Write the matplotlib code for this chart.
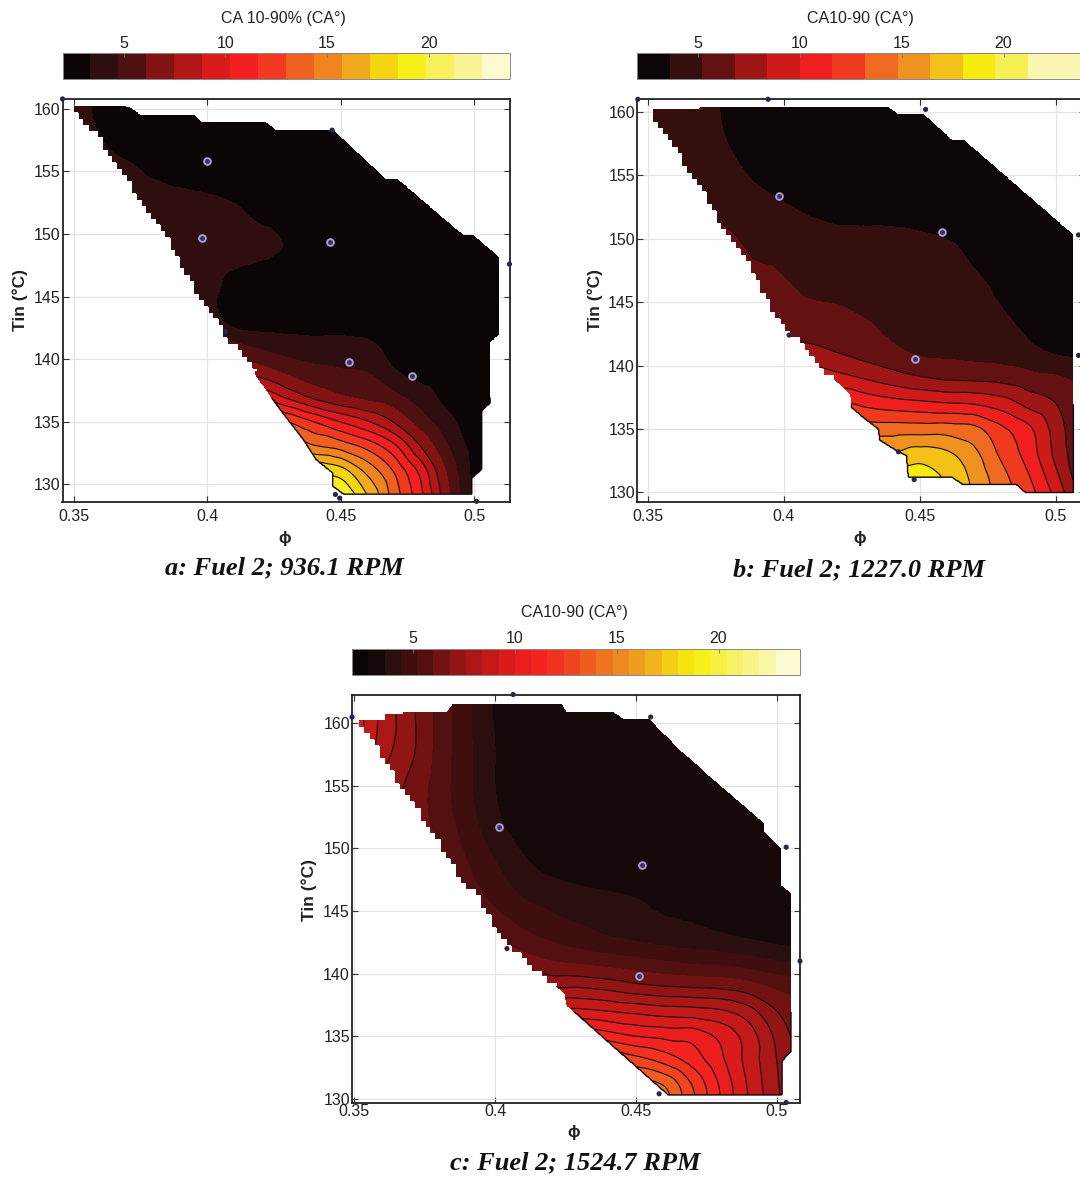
import numpy as np
import matplotlib
matplotlib.use('Agg')
import matplotlib.pyplot as plt
import matplotlib.tri as mtri
from matplotlib.path import Path
from matplotlib.colors import LinearSegmentedColormap

W, H = 1080, 1179

# data
phi_grid = [0.35, 0.36, 0.37, 0.38, 0.39, 0.40, 0.41, 0.42, 0.43, 0.44, 0.45, 0.46, 0.47, 0.48, 0.49, 0.50, 0.51]
tin_grid = [129, 131, 133, 135, 137, 139, 141, 143, 146, 149, 152, 155, 158, 162]

z_a = [
    [20, 20, 20, 20, 20, 20, 20, 20, 20, 20, 20, 17.2, 13.8, 10.6, 6.5, 3.2, 2.4],
    [18, 18, 18, 18, 18, 18, 18, 18, 18, 18.5, 17.8, 15.4, 12.9, 9.8, 5.9, 3.0, 2.4],
    [15.5, 15.5, 15.5, 15.5, 15.5, 15.5, 15.5, 15.5, 15.5, 14.6, 13.9, 12.6, 10.6, 7.5, 4.8, 2.9, 2.4],
    [13.5, 13.5, 13.5, 13.5, 13.5, 13.5, 13.5, 13.5, 13, 11.6, 10.2, 9, 7.4, 5.4, 3.8, 2.7, 2.3],
    [10.5, 10.5, 10.5, 10.5, 10.5, 10.5, 10.5, 10, 8.6, 7.2, 6.3, 5.7, 5.1, 4.1, 2.9, 2.4, 2.2],
    [8, 8, 8, 8, 8, 8, 7.5, 6.8, 5.8, 5.2, 4.9, 4.7, 3.5, 2.8, 2.5, 2.3, 2.2],
    [6.5, 6.5, 6.5, 6.5, 6.5, 6, 5.2, 4.5, 4.1, 3.9, 3.9, 3.7, 2.9, 2.5, 2.3, 2.2, 2.2],
    [5, 5, 5, 5, 4.5, 4.0, 3.0, 2.8, 2.8, 2.8, 2.8, 2.7, 2.5, 2.4, 2.3, 2.2, 2.2],
    [4.6, 4.6, 4.6, 4.6, 4.2, 3.8, 3.0, 2.6, 2.5, 2.5, 2.5, 2.4, 2.4, 2.3, 2.3, 2.2, 2.2],
    [4.4, 4.4, 4.4, 4.2, 4.2, 4.2, 4.0, 3.7, 3.3, 2.9, 2.6, 2.5, 2.4, 2.3, 2.3, 2.2, 2.2],
    [4.3, 4.2, 4.1, 4.1, 4.0, 3.8, 3.5, 3.0, 2.8, 2.6, 2.5, 2.5, 2.4, 2.4, 2.3, 2.3, 2.2],
    [4.1, 3.9, 3.6, 3.2, 2.9, 2.7, 2.6, 2.5, 2.5, 2.5, 2.5, 2.4, 2.4, 2.4, 2.3, 2.3, 2.3],
    [4, 3.3, 2.8, 2.6, 2.5, 2.5, 2.5, 2.5, 2.5, 2.4, 2.4, 2.4, 2.4, 2.3, 2.3, 2.3, 2.3],
    [3.6, 3.0, 2.6, 2.5, 2.5, 2.5, 2.5, 2.5, 2.5, 2.4, 2.4, 2.4, 2.4, 2.3, 2.3, 2.3, 2.3],
]

z_b = [
    [19, 19, 19, 19, 19, 19, 19, 19, 19, 19, 19.5, 18, 16.2, 14.2, 12.5, 10, 6],
    [18, 18, 18, 18, 18, 18, 18, 18, 18, 18.5, 19, 17.8, 16, 13.8, 11.8, 8.9, 5.5],
    [16.5, 16.5, 16.5, 16.5, 16.5, 16.5, 16.5, 16.5, 16.5, 16.5, 17.2, 16.7, 15.2, 12.9, 10.9, 8, 5.2],
    [14, 14, 14, 14, 14, 14, 14, 14, 14, 14, 14, 14, 13.6, 11.9, 10.3, 7.7, 5],
    [12, 12, 12, 12, 12, 12, 12, 12, 11.2, 10.7, 10.4, 10.1, 9.9, 9.2, 7.9, 6.8, 4.9],
    [9.8, 9.8, 9.8, 9.8, 9.8, 9.8, 9.6, 9, 8.3, 7.6, 7, 6.6, 6.5, 6.3, 5.8, 5.4, 4.7],
    [8, 8, 8, 8, 8, 7.8, 7.4, 6.8, 6.2, 5.6, 5, 4.9, 4.7, 4.5, 4, 3.5, 3.2],
    [6.8, 6.8, 6.8, 6.8, 6.6, 6.2, 6, 5.8, 5.4, 4.9, 4.7, 4.5, 4.2, 3.9, 3.4, 2.9, 2.6],
    [6.2, 6.2, 6.2, 6, 5.8, 5.4, 5, 4.9, 4.7, 4.5, 4.4, 4.2, 3.9, 3.4, 2.9, 2.6, 2.4],
    [6, 6, 6, 5.6, 5, 4.8, 4.6, 4.5, 4.4, 4.3, 4.1, 3.9, 3.3, 2.8, 2.5, 2.3, 2.2],
    [5.3, 5.2, 5, 4.8, 4.4, 3.9, 3.5, 3.2, 3.2, 3.2, 3.1, 2.8, 2.5, 2.3, 2.3, 2.2, 2.2],
    [4.8, 4.6, 4.4, 4.0, 3.4, 2.9, 2.6, 2.5, 2.5, 2.5, 2.4, 2.4, 2.3, 2.3, 2.3, 2.2, 2.2],
    [4.4, 4.3, 4.1, 3.5, 2.9, 2.6, 2.5, 2.5, 2.5, 2.4, 2.4, 2.4, 2.3, 2.3, 2.3, 2.2, 2.2],
    [4.2, 4.1, 3.9, 3.3, 2.8, 2.5, 2.5, 2.5, 2.5, 2.4, 2.4, 2.4, 2.3, 2.3, 2.3, 2.2, 2.2],
]

z_c = [
    [15, 15, 15, 15, 15, 15, 15, 15, 15, 15, 15, 14.5, 12.6, 10.8, 9.2, 7.8, 6.5],
    [15, 15, 15, 15, 15, 15, 15, 15, 15, 15, 14.5, 14, 12.4, 10.7, 9.1, 7.7, 6.5],
    [14, 14, 14, 14, 14, 14, 14, 14, 14, 13.5, 12.8, 12.2, 11.3, 10.2, 8.9, 7.6, 6.5],
    [12.5, 12.5, 12.5, 12.5, 12.5, 12.5, 12.5, 12.5, 11.6, 11.2, 10.8, 10.6, 10.5, 9.8, 8.8, 7.4, 6.2],
    [9.8, 9.8, 9.8, 9.8, 9.8, 9.8, 9.8, 9.6, 9.4, 9.2, 9, 8.8, 8.7, 8.5, 7.9, 6.8, 5.8],
    [8, 8, 8, 8, 8, 8, 8, 7.5, 7.5, 7.3, 7, 6.8, 6.7, 6.6, 6.3, 5.8, 5.4],
    [7.5, 7.5, 7.5, 7.5, 7.5, 7, 6.4, 6, 5.8, 5.6, 5.4, 5.2, 5, 4.9, 4.7, 4.4, 4.2],
    [7, 7, 7, 7, 6.6, 6, 5.4, 5, 4.7, 4.4, 4.2, 4, 3.9, 3.7, 3.5, 3.3, 3.2],
    [7, 7, 7, 6.4, 5.7, 5, 4.4, 4.1, 3.9, 3.75, 3.6, 3.4, 3.3, 3.1, 3, 3, 3],
    [7.6, 7.6, 7, 6, 5.2, 4.4, 3.7, 3.3, 3.1, 3, 3, 3, 3, 3, 3, 3, 3],
    [8, 7.5, 6.6, 5.7, 4.8, 3.8, 3.2, 3, 3, 3, 3, 3, 3, 3, 3, 3, 3],
    [8.6, 7.4, 6.6, 5.6, 4.6, 3.6, 3.1, 3, 3, 3, 3, 3, 3, 3, 3, 3, 3],
    [9.6, 8, 7, 5.7, 4.6, 3.6, 3, 3, 3, 3, 3, 3, 3, 3, 3, 3, 3],
    [9.8, 8.2, 7, 5.7, 4.6, 3.5, 3, 3, 3, 3, 3, 3, 3, 3, 3, 3, 3],
]

# outline of the covered region, clockwise from the top left corner
hull_a_phi = [0.35, 0.371, 0.375, 0.395, 0.398, 0.422, 0.4255, 0.447, 0.4666, 0.471, 0.4957, 0.4995, 0.5094, 0.5094, 0.5058, 0.5058, 0.5027, 0.5027, 0.4989, 0.4989, 0.4508, 0.447, 0.447, 0.4406, 0.4362, 0.4261, 0.4185, 0.4153, 0.4084, 0.4052, 0.3982, 0.3856, 0.3729, 0.36]
hull_a_tin = [160.1, 160.1, 159.5, 159.5, 158.9, 158.9, 158.3, 158.3, 154.4, 154.4, 149.9, 149.9, 148.1, 142, 141.4, 136.5, 135.9, 131.2, 130.5, 129.25, 129.25, 129.85, 130.9, 132, 133.5, 136.3, 138.6, 140.2, 141.4, 142.5, 144.6, 149.4, 153.3, 157.6]

hull_b_phi = [0.35, 0.4384, 0.442, 0.4513, 0.4617, 0.466, 0.5065, 0.5065, 0.4887, 0.4856, 0.466, 0.4617, 0.4457, 0.4451, 0.4421, 0.4353, 0.4347, 0.4292, 0.4249, 0.4243, 0.415, 0.4046, 0.3948, 0.385, 0.3764, 0.3703, 0.3617, 0.3531]
hull_b_tin = [160.36, 160.36, 159.8, 159.8, 157.8, 157.8, 150.26, 130, 130, 130.6, 130.6, 131.2, 131.2, 132.9, 133.2, 134.1, 135, 135.9, 136.7, 137.8, 139.6, 142.1, 144.8, 148.9, 151.3, 153.7, 156.6, 159.3]

hull_c_phi = [0.3524, 0.3596, 0.3627, 0.3831, 0.3849, 0.4235, 0.4253, 0.4416, 0.4458, 0.4548, 0.4651, 0.4952, 0.4952, 0.5016, 0.5016, 0.505, 0.505, 0.5018, 0.5018, 0.4614, 0.4253, 0.4247, 0.4066, 0.4018, 0.3946, 0.3886, 0.3789, 0.3723, 0.3657, 0.3566, 0.3524]
hull_c_tin = [160.3, 160.3, 160.9, 160.9, 161.5, 161.5, 160.9, 160.9, 160.3, 160.3, 157.9, 152, 151.3, 149.9, 147, 146.4, 133.8, 133, 130.3, 130.3, 137.5, 138.4, 141.9, 143, 146.1, 147.3, 151, 153.2, 155.2, 158.8, 159.85]

# measured points, ringed ones and plain dots
ring_a_phi = [0.3999, 0.3979, 0.4458, 0.4529, 0.4767]
ring_a_tin = [155.8, 149.7, 149.4, 139.8, 138.7]
dot_a_phi = [0.4068, 0.4467, 0.5131, 0.3457, 0.4479, 0.4495, 0.5008]
dot_a_tin = [142.2, 158.3, 147.6, 160.8, 129.2, 128.9, 128.65]

ring_b_phi = [0.3981, 0.458, 0.4482]
ring_b_tin = [153.4, 150.5, 140.5]
dot_b_phi = [0.4019, 0.4479, 0.4421, 0.4521, 0.3942, 0.3463, 0.5083, 0.5083]
dot_b_tin = [142.4, 131, 133.2, 160.2, 161, 161, 150.3, 140.8]

ring_c_phi = [0.4012, 0.4523, 0.4512]
ring_c_tin = [151.7, 148.7, 139.8]
dot_c_phi = [0.4042, 0.4582, 0.4552, 0.4064, 0.3492, 0.5033, 0.5082, 0.5033]
dot_c_tin = [142, 130.4, 160.5, 162.3, 160.5, 150.1, 141, 129.7]

# colour stops: CA value, colour
stop_vals = [2, 3, 4, 5.5, 7, 8.4, 9.8, 11, 12.5, 14, 15.3, 16.7, 18, 19, 21, 24]
stop_cols = ['#040202', '#100707', '#2c0e0e', '#4f1010', '#8a1414', '#b81818', '#e01c1c', '#f42020',
             '#f03c20', '#ee6a20', '#ee8a20', '#f2b01c', '#f5dc10', '#f6f010', '#f8f070', '#fdfde8']
cb_ticks = [5, 10, 15, 20]
x_ticks = [0.35, 0.4, 0.45, 0.5]
x_labels = ['0.35', '0.4', '0.45', '0.5']
y_ticks = [130, 135, 140, 145, 150, 155, 160]

plt.rcParams['font.family'] = ['Liberation Sans', 'DejaVu Sans']
cmap = LinearSegmentedColormap.from_list(
    'ca', [((v - 2) / 22, c) for v, c in zip(stop_vals, stop_cols)], N=512)

fig = plt.figure(figsize=(W / 100, H / 100), dpi=100, facecolor='white')


def box(left, top, right, bottom):
    return [left / W, 1 - bottom / H, (right - left) / W, (bottom - top) / H]


def covered(PHI, TIN, hull_phi, hull_tin):
    path = Path(np.column_stack([hull_phi, hull_tin]))
    pts = np.column_stack([PHI.ravel(), TIN.ravel()])
    inside = path.contains_points(pts).reshape(PHI.shape)
    # the lower-phi edge is stepped in the original
    q_phi = np.round(PHI / 0.0018) * 0.0018
    q_tin = np.round(TIN / 0.5) * 0.5
    pts = np.column_stack([q_phi.ravel(), q_tin.ravel()])
    stepped = path.contains_points(pts).reshape(PHI.shape)
    edge = (TIN > 139) & (PHI < 0.47 - 0.00333 * (TIN - 130))
    inside[edge] = stepped[edge]
    return inside


def panel(rect, cb_rect, xlim, ylim, z, step, hull_phi, hull_tin, rings, dots, cb_title, title_xy,
          tin_xy, phi_xy, caption, caption_xy, x_pad):
    ax = fig.add_axes(box(*rect))
    phi_mesh, tin_mesh = np.meshgrid(phi_grid, tin_grid)
    tri = mtri.Triangulation(phi_mesh.ravel(), tin_mesh.ravel())
    interp = mtri.CubicTriInterpolator(tri, np.array(z, dtype=float).ravel(), kind='geom')

    PHI, TIN = np.meshgrid(np.linspace(0.35, 0.51, 560), np.linspace(129, 162, 520))
    Z = np.ma.masked_invalid(np.ma.filled(interp(PHI, TIN), np.nan))
    inside = covered(PHI, TIN, hull_phi, hull_tin)
    Z = np.ma.masked_where(~inside, Z)

    levels = np.arange(2, 24.01, step)
    levels[-1] = 24
    cs = ax.contourf(PHI, TIN, Z, levels=levels, cmap=cmap, vmin=2, vmax=24)
    # lines only show on the brighter bands
    ax.contour(PHI, TIN, Z, levels=levels[levels > 6.4], colors='#120808', linewidths=0.8)

    # black rim only along the bright lower part
    rim = np.ma.masked_where(TIN > 137, inside.astype(float))
    ax.contour(PHI, TIN, rim, levels=[0.5], colors='#100808', linewidths=1.0)

    ax.scatter(dots[0], dots[1], s=14, color='#27264f', edgecolors='none', clip_on=False, zorder=4)
    ax.scatter(rings[0], rings[1], s=24, facecolor='#3a3560', edgecolors='#ab9fdc', linewidths=1.3,
               clip_on=False, zorder=4)

    ax.set_xlim(xlim)
    ax.set_ylim(ylim)
    ax.set_xticks(x_ticks)
    ax.set_xticklabels(x_labels)
    ax.set_yticks(y_ticks)
    ax.grid(color='#e4e4e4', linewidth=0.9)
    ax.set_axisbelow(True)
    ax.tick_params(direction='in', length=4, width=0.8, top=True, right=True, labelsize=11.5,
                   labelcolor='#222222', color='#333333')
    ax.tick_params(axis='x', pad=x_pad)
    ax.tick_params(axis='y', pad=1.5)
    for s in ax.spines.values():
        s.set_linewidth(1.3)
        s.set_color('#222222')

    cax = fig.add_axes(box(*cb_rect))
    cb = fig.colorbar(cs, cax=cax, orientation='horizontal', ticks=cb_ticks, spacing='proportional')
    cax.xaxis.set_ticks_position('top')
    cax.tick_params(direction='in', length=3, width=0.6, labelsize=11.5, labelcolor='#222222',
                    pad=1.5, color='#777777')
    cb.outline.set_linewidth(0.7)
    cb.outline.set_edgecolor('#888888')

    fig.text(title_xy[0] / W, 1 - title_xy[1] / H, cb_title, ha='center', va='center', fontsize=11.5,
             color='#222222')
    fig.text(tin_xy[0] / W, 1 - tin_xy[1] / H, 'Tin (°C)', rotation=90, ha='center', va='center',
             fontsize=12.5, fontweight='bold', color='#222222')
    fig.text(phi_xy[0] / W, 1 - phi_xy[1] / H, 'ϕ', ha='center', va='center', fontsize=12,
             fontweight='bold', color='#222222')
    fig.text(caption_xy[0] / W, 1 - caption_xy[1] / H, caption, ha='center', va='center', fontsize=19,
             family='Liberation Serif', style='italic', fontweight='bold', color='#111111')


panel((62.5, 99.4, 510, 501.7), (62.5, 52.7, 510, 79), (0.3457, 0.5133), (128.62, 160.76), z_a, 1.375,
      hull_a_phi, hull_a_tin, (ring_a_phi, ring_a_tin), (dot_a_phi, dot_a_tin),
      'CA 10-90% (CA°)', (283, 18), (20, 300), (285, 538), 'a: Fuel 2; 936.1 RPM', (284, 568), 5)

panel((637, 99.4, 1085, 501.7), (637, 52.7, 1085, 79), (0.346, 0.5107), (129.26, 160.99), z_b, 1.6,
      hull_b_phi, hull_b_tin, (ring_b_phi, ring_b_tin), (dot_b_phi, dot_b_tin),
      'CA10-90 (CA°)', (860, 18), (595, 300), (860, 538), 'b: Fuel 2; 1227.0 RPM', (859, 570), 5)

panel((352, 695, 800, 1103), (352, 648.5, 800, 675), (0.3492, 0.5082), (129.66, 162.26), z_c, 0.8,
      hull_c_phi, hull_c_tin, (ring_c_phi, ring_c_tin), (dot_c_phi, dot_c_tin),
      'CA10-90 (CA°)', (574, 612), (309, 890), (574, 1132), 'c: Fuel 2; 1524.7 RPM', (575, 1163), 1)

fig.savefig('out.png', dpi=100)
